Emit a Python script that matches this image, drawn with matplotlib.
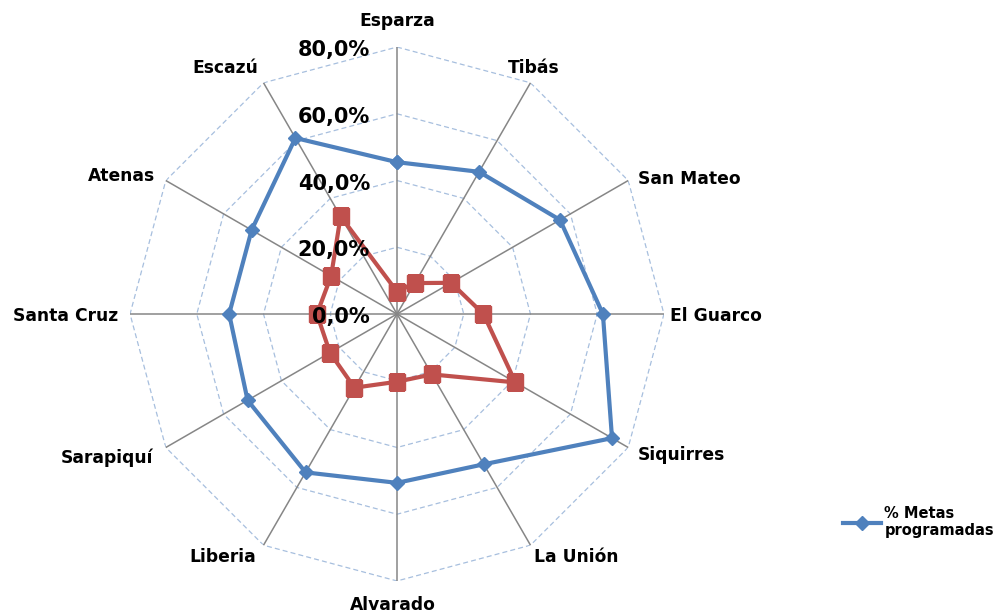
import numpy as np
import matplotlib
matplotlib.use("Agg")
import matplotlib.pyplot as plt

# categorias (en sentido horario desde arriba)
cantones = ["Esparza", "Tibás", "San Mateo", "El Guarco", "Siquirres", "La Unión",
            "Alvarado", "Liberia", "Sarapiquí", "Santa Cruz", "Atenas", "Escazú"]
metas_prog = [45.5, 49.2, 56.4, 61.7, 74.4, 52.0, 50.6, 54.8, 51.7, 50.3, 50.3, 60.9]
metas_ejec = [6.7, 10.7, 18.7, 25.9, 41.0, 20.9, 20.3, 25.5, 23.2, 24.0, 22.8, 33.8]
niveles = [0, 20, 40, 60, 80]
etiquetas_niveles = ["0,0%", "20,0%", "40,0%", "60,0%", "80,0%"]

azul = "#4F81BD"
rojo = "#C0504D"

n = len(cantones)
ang = np.arange(n) * 2 * np.pi / n
ang_c = np.append(ang, ang[0])

fig = plt.figure(figsize=(9.98, 6.16), dpi=100)
ax = fig.add_axes([0.1303, 0.0568, 0.535, 0.8669], projection="polar")
ax.set_theta_zero_location("N")
ax.set_theta_direction(-1)
ax.set_ylim(0, 80)
ax.grid(False)
ax.set_xticks([])
ax.set_yticks([])
ax.spines["polar"].set_visible(False)
ax.patch.set_alpha(0)

# anillos punteados
for r in niveles[1:]:
    ax.plot(ang_c, [r] * (n + 1), color="#A7BFDE", lw=0.9, ls=(0, (4, 2.5)), zorder=1)
# radios
for a in ang:
    ax.plot([a, a], [0, 80], color="#868686", lw=1.1, zorder=2)

ax.plot(ang_c, np.append(metas_prog, metas_prog[0]), color=azul, lw=3,
        marker="D", ms=7, zorder=4, label="% Metas\nprogramadas")
ax.plot(ang_c, np.append(metas_ejec, metas_ejec[0]), color=rojo, lw=3,
        marker="s", ms=11, zorder=5)

# etiquetas del eje radial
for r, s in zip(niveles, etiquetas_niveles):
    ax.annotate(s, xy=(0, r), xytext=(-27, -3), textcoords="offset pixels",
                ha="right", va="center", fontsize=15, fontweight="bold", zorder=6)

# etiquetas de categorias
pos = [(0, 17, "center", "bottom"), (3, 6, "center", "bottom"), (10, 2, "left", "center"),
       (6, -2, "left", "center"), (10, -8, "left", "center"), (4, -3, "left", "top"),
       (-4, -15, "center", "top"), (-7, -3, "right", "top"), (-13, -10, "right", "center"),
       (-12, -2, "right", "center"), (-11, 5, "right", "center"), (-5, 6, "right", "bottom")]
for a, nombre, (dx, dy, ha, va) in zip(ang, cantones, pos):
    ax.annotate(nombre, xy=(a, 80), xytext=(dx, dy), textcoords="offset pixels",
                ha=ha, va=va, fontsize=12.3, fontweight="bold")

h, l = ax.get_legend_handles_labels()
leg = fig.legend(h, l, loc="center left", frameon=False,
                 prop={"size": 10.5, "weight": "bold"}, handlelength=2.6, handletextpad=0.2)
leg.set_bbox_to_anchor((0.832, 1 - 522 / 616), transform=fig.transFigure)

fig.savefig("out.png", dpi=100)
